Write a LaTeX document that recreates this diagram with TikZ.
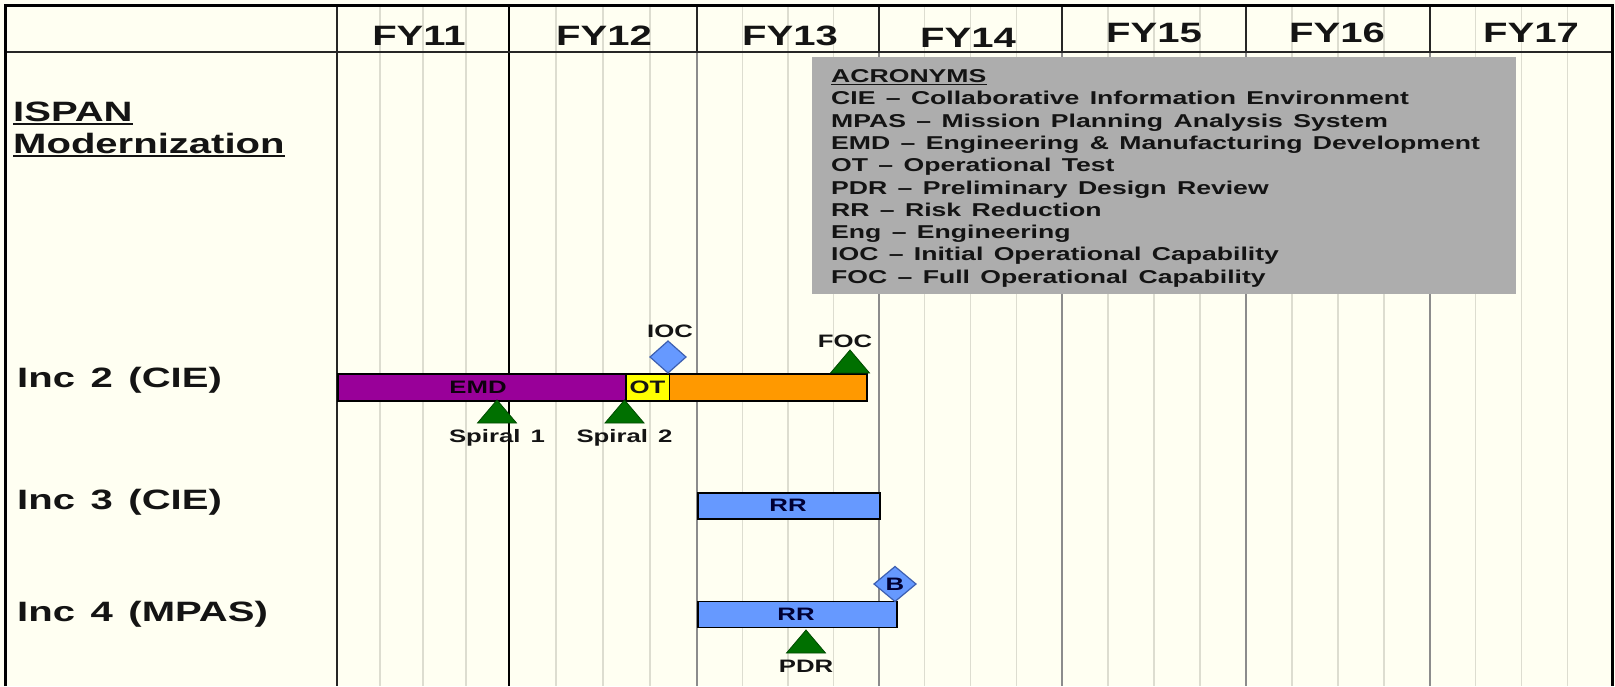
\documentclass[tikz,border=0pt]{standalone}
\usepackage{fontspec}
\setmainfont{Liberation Sans}[FakeStretch=1.43,WordSpace=1.4]
\definecolor{bgc}{HTML}{FFFFF2}
\definecolor{qcol}{HTML}{DDDDD0}
\definecolor{ycol}{HTML}{8C8C8C}
\definecolor{boxc}{HTML}{ADADAD}
\definecolor{emdc}{HTML}{990099}
\definecolor{otc}{HTML}{FFFF00}
\definecolor{orc}{HTML}{FF9900}
\definecolor{bluc}{HTML}{6699FF}
\definecolor{bluo}{HTML}{3D5FB0}
\definecolor{grnc}{HTML}{007000}
\definecolor{grno}{HTML}{004A00}
\definecolor{txt}{HTML}{141414}
\newcommand\fyfont{\fontsize{28}{33}\selectfont\bfseries}
\newcommand\rowfont{\fontsize{28}{33}\selectfont\bfseries}
\newcommand\acrfont{\fontsize{18.6}{22}\selectfont\bfseries}
\newcommand\smfont{\fontsize{18}{21}\selectfont\bfseries}
\begin{document}
\begin{tikzpicture}[x=1pt,y=-1pt,
  qline/.style={draw=qcol,line width=1.1pt},
  yline/.style={draw=ycol,line width=1.8pt},
  hline/.style={draw=black!85,line width=2pt},
  fy/.style={anchor=base,inner sep=0pt,font=\fyfont,text=txt},
  rowlbl/.style={anchor=base west,inner sep=0pt,font=\rowfont,text=txt},
  acr/.style={anchor=base west,inner sep=0pt,font=\acrfont,text=txt},
  sm/.style={anchor=base,inner sep=0pt,font=\smfont,text=txt},
  barbox/.style={draw=black,line width=1.6pt,anchor=north west,inner sep=0pt,minimum height=27pt},
  dia/.style={fill=bluc,draw=bluo,line width=1.2pt},
  tri/.style={fill=grnc,draw=grno,line width=0.8pt}]
\useasboundingbox (0,0) rectangle (1615,686);
\fill[bgc] (0,0) rectangle (1615,686);
% quarter lines
\foreach \a/\b in {337/509,509/697,697/879,879/1062,1062/1246,1246/1430,1430/1613}
  \foreach \k in {1,2,3}
    \draw[qline] ({\a+(\b-\a)*\k/4},5) -- ({\a+(\b-\a)*\k/4},686);
% year lines
\foreach \x in {697,879,1062,1246,1430}
  \draw[yline] (\x,52) -- (\x,686);
\draw[draw=black,line width=2.3pt] (509,5) -- (509,686);
\draw[draw=black!85,line width=2pt] (337,5) -- (337,686);
% header
\foreach \x in {697,879,1062,1246,1430}
  \draw[hline] (\x,5) -- (\x,52);
\draw[hline] (5,52) -- (1612,52);
\draw[black,line width=3pt] (5,686) -- (5,5) -- (1612,5) -- (1612,686);
% FY labels
\node[fy] (fy11) at (419,45) {FY11};
\node[fy] (fy12) at (604,45) {FY12};
\node[fy] (fy13) at (790,45) {FY13};
\node[fy] (fy14) at (968,47) {FY14};
\node[fy] (fy15) at (1154,42) {FY15};
\node[fy] (fy16) at (1337,42) {FY16};
\node[fy] (fy17) at (1531,42) {FY17};
% acronym box
\fill[boxc] (811.5,57) rectangle (1516,293.5);
\node[acr] (acr0) at (831,82.5) {ACRONYMS};
\draw[txt,line width=1.6pt] ([yshift=-2pt]acr0.base west) -- ([yshift=-2pt]acr0.base east);
\node[acr] (acr1) at (831,104.8) {CIE – Collaborative Information Environment};
\node[acr] (acr2) at (831,127.1) {MPAS – Mission Planning Analysis System};
\node[acr] (acr3) at (831,149.4) {EMD – Engineering \& Manufacturing Development};
\node[acr] (acr4) at (831,171.7) {OT – Operational Test};
\node[acr] (acr5) at (831,194.0) {PDR – Preliminary Design Review};
\node[acr] (acr6) at (831,216.3) {RR – Risk Reduction};
\node[acr] (acr7) at (831,238.6) {Eng – Engineering};
\node[acr] (acr8) at (831,260.9) {IOC – Initial Operational Capability};
\node[acr] (acr9) at (831,283.2) {FOC – Full Operational Capability};
% left labels
\node[rowlbl] (isp) at (13,121.7) {ISPAN};
\draw[txt,line width=2pt] ([yshift=-2pt]isp.base west) -- ([yshift=-2pt]isp.base east);
\node[rowlbl] (mod) at (13,153.3) {Modernization};
\draw[txt,line width=2pt] ([yshift=-3pt]mod.base west) -- ([yshift=-3pt]mod.base east);
\node[rowlbl] (inc2) at (17,387) {Inc 2 (CIE)};
\node[rowlbl] (inc3) at (17,509) {Inc 3 (CIE)};
\node[rowlbl] (inc4) at (17,621.5) {Inc 4 (MPAS)};
% Inc 2 bars
\node[barbox,fill=emdc,minimum width=288pt] (emd) at (337,373) {};
\node[barbox,fill=otc,minimum width=43.5pt] (ot) at (625,373) {};
\node[barbox,fill=orc,minimum width=197.5pt] (orb) at (668.5,373) {};
\node[sm,text=black!90!emdc] (emdl) at (478,393.5) {EMD};
\node[sm] (otl) at (ot.center |- emdl.base) {OT};
% IOC diamond
\draw[dia] (668,341) -- (686,357) -- (668,373) -- (650,357) -- cycle;
\node[sm] (ioc) at (670,337) {IOC};
% FOC triangle
\draw[tri] (850,350) -- (869.5,373) -- (830.5,373) -- cycle;
\node[sm] (foc) at (845,347) {FOC};
% spirals
\draw[tri] (497,400) -- (516.5,423) -- (477.5,423) -- cycle;
\node[sm] (sp1) at (497,442) {Spiral 1};
\draw[tri] (624.5,400) -- (644,423) -- (605,423) -- cycle;
\node[sm] (sp2) at (624.5,442) {Spiral 2};
% Inc 3
\node[barbox,fill=bluc,minimum width=182pt,minimum height=26pt] (rr3) at (697,492) {};
\node[sm,text=black!80!blue] (rr3l) at (788,511.5) {RR};
% Inc 4
\node[barbox,fill=bluc,minimum width=199pt,minimum height=26pt] (rr4) at (697,600.7) {};
\node[sm,text=black!80!blue] (rr4l) at (796,620) {RR};
\draw[dia] (895,566.5) -- (916,584) -- (895,601.5) -- (874,584) -- cycle;
\node[sm,text=black!80!blue] (bl) at (895,590.5) {B};
\draw[tri] (806,630) -- (825.5,653) -- (786.5,653) -- cycle;
\node[sm] (pdr) at (806,672) {PDR};
\end{tikzpicture}
\end{document}
